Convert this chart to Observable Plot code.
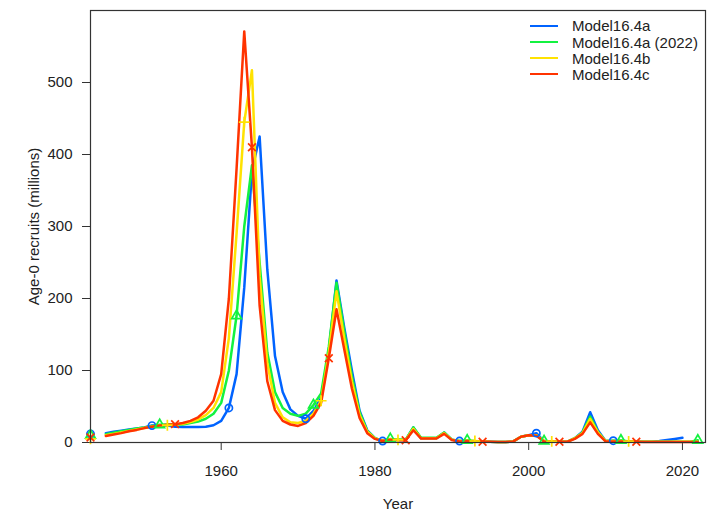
<!DOCTYPE html>
<html><head><meta charset="utf-8">
<script src="https://cdn.jsdelivr.net/npm/d3@7"></script>
<script src="https://cdn.jsdelivr.net/npm/@observablehq/plot@0.6"></script>
<style>
body{margin:0;background:#fff;font-family:"Liberation Sans",Arial,sans-serif;}
#wrap{position:relative;width:708px;height:512px;}
#legend{position:absolute;left:530px;top:17px;font-size:15px;color:#222;}
.row{position:absolute;left:0;height:17px;display:flex;align-items:center;white-space:nowrap}
.sw{width:28px;height:0;border-top:2.5px solid;margin-right:14px}
</style></head><body><div id="wrap"><div id="legend"></div></div>
<script>
const seriesNames = ["Model16.4a", "Model16.4a (2022)", "Model16.4b", "Model16.4c"];
const seriesColors = ["#0063FF", "#13F240", "#FFE201", "#FF3300"];
const seriesSymbols = ["circle", "triangle", "plus", "times"];

const years = [1945,1946,1947,1948,1949,1950,1951,1952,1953,1954,1955,1956,1957,1958,1959,
1960,1961,1962,1963,1964,1965,1966,1967,1968,1969,1970,1971,1972,1973,1974,1975,1976,1977,1978,1979,
1980,1981,1982,1983,1984,1985,1986,1987,1988,1989,1990,1991,1992,1993,1994,1995,1996,1997,1998,1999,
2000,2001,2002,2003,2004,2005,2006,2007,2008,2009,2010,2011,2012,2013,2014,2015,2016,2017,2018,2019,
2020,2021,2022];

const model164a = [13,15,16.5,18,19.5,21,23.5,24,23.5,22,21.5,21.5,21.5,22,24,
30,48,95,215,377,425,240,120,70,46,37,33,44,62,128,225,160,100,44,17,
6,2,4,3.5,3.5,21,6,6,6,14,4,2,2,1.5,1,1,0.8,0.8,1.5,8,
10,13,1.5,1,1,1,6,15,42,17,2,2.5,1.5,1,1,1,1,2,3.5,5,
6.5,null,null];
const model164a2022 = [11.5,13.5,15.5,17.5,19.5,21,23,24.5,25,25,25,27,29,33,40,
55,100,176,300,385,250,125,70,48,40,37,40,52,68,133,222,155,92,42,16,
6,2.5,5,4,4,21,6.5,6.5,6.5,14,4,2,3,2,1.5,1,0.8,0.8,1.5,8,
10,10,2,1.5,1,1,6,14,36,15,2,2.5,3,1.5,1,1,1,1,1,1,
1,1,3];
const model164b = [10,12,14,16,18,20,22,23.5,24,25,26,28.5,32,38,48,
70,145,290,445,517,230,110,55,35,28,27,30,40,58,125,210,145,85,38,15,
5.5,2.5,4.5,3.7,3.5,19,6,6,6,13,4,2,2.5,2,1.5,1,0.8,0.8,1.5,8,
10,10,2,1.5,1,1,6,13,33,14,2,2,2,1.5,1,1,1,1,1,1,
1,1,1];
const model164c = [9,11,13,15.5,17.5,20,22,23.5,24.5,25.5,27,30,35,44,58,
95,200,380,571,410,190,85,45,30,25,23,27,37,55,117,185,130,75,34,13,
5,2,4,3,3,17,5.5,5.5,5.5,12,3.5,1.5,2,1.5,1,1,0.8,0.8,1.5,8,
10,9.5,1.5,1,1,1,5,12,28,12,1.5,1.5,1.5,1,1,0.8,0.8,0.8,0.8,0.8,
0.8,0.8,0.8];
const seriesValues = [model164a, model164a2022, model164b, model164c];

// staggered marker years (every 10th year, offset per model)
const markerYears = [
  [1951,1961,1971,1981,1991,2001,2011],
  [1952,1962,1972,1982,1992,2002,2012,2022],
  [1953,1963,1973,1983,1993,2003,2013],
  [1954,1964,1974,1984,1994,2004,2014]
];
// virgin recruitment shown at the left edge
const virginYear = 1943;
const virginValues = [12, 10, 5, 7];

const xTicks = [1960, 1980, 2000, 2020];
const yTicks = [0, 100, 200, 300, 400, 500];

const rows = [];
seriesNames.forEach((s, i) => years.forEach((y, j) => {
  if (seriesValues[i][j] != null) rows.push({series: s, year: y, value: seriesValues[i][j]});
}));
const pts = [];
seriesNames.forEach((s, i) => {
  pts.push({series: s, year: virginYear, value: virginValues[i]});
  markerYears[i].forEach(y => {
    const j = years.indexOf(y);
    if (j >= 0 && seriesValues[i][j] != null) pts.push({series: s, year: y, value: seriesValues[i][j]});
  });
});

const chart = Plot.plot({
  width: 708, height: 512,
  marginLeft: 90, marginRight: 3, marginTop: 10, marginBottom: 70,
  style: {fontFamily: '"Liberation Sans", Arial, sans-serif', fontSize: "15px", color: "#222", background: "#fff"},
  x: {domain: [1943, 2023]},
  y: {domain: [0, 600]},
  color: {domain: seriesNames, range: seriesColors},
  symbol: {domain: seriesNames, range: seriesSymbols},
  marks: [
    Plot.axisX({ticks: xTicks, tickFormat: d => String(d), tickSize: 8, tickPadding: 15,
      label: "Year", labelAnchor: "center", labelOffset: 66, labelArrow: "none", stroke: "#333"}),
    Plot.axisY({ticks: yTicks, tickSize: 8, tickPadding: 10,
      label: "Age-0 recruits (millions)", labelAnchor: "center", labelOffset: 62, labelArrow: "none", stroke: "#333"}),
    Plot.line(rows, {x: "year", y: "value", z: "series", stroke: "series", strokeWidth: 2.5, curve: "linear"}),
    Plot.dot(pts, {x: "year", y: "value", symbol: "series", stroke: "series", fill: "none", r: 3.6, strokeWidth: 1.7}),
    Plot.frame({stroke: "#333", strokeWidth: 1.2})
  ]
});
const wrap = document.getElementById("wrap");
wrap.insertBefore(chart, wrap.firstChild);

const legend = document.getElementById("legend");
const rowCenters = [8.7, 25.3, 41.3, 57.3];
seriesNames.forEach((s, i) => {
  const r = document.createElement("div");
  r.className = "row";
  r.style.top = (rowCenters[i] - 8.5) + "px";
  const sw = document.createElement("span");
  sw.className = "sw";
  sw.style.borderColor = seriesColors[i];
  const t = document.createElement("span");
  t.textContent = s;
  r.appendChild(sw); r.appendChild(t);
  legend.appendChild(r);
});
</script></body></html>
